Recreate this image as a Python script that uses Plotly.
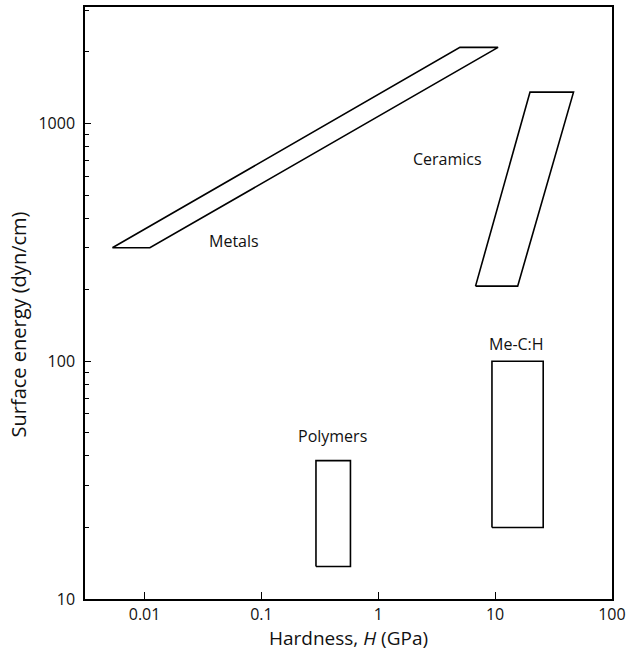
import math
import plotly.graph_objects as go

# Material classes and their hardness / surface-energy envelopes (corner points)
materials = ["Metals", "Ceramics", "Polymers", "Me-C:H"]

# Hardness H (GPa) at each corner: bottom-left, bottom-right, top-right, top-left
metals_h = [0.0053, 0.0111, 10.6, 5.0]
ceramics_h = [6.8, 15.6, 46.9, 19.9]
polymers_h = [0.293, 0.578, 0.578, 0.293]
mech_h = [9.4, 25.8, 25.8, 9.4]

# Surface energy (dyn/cm) at the same corners
metals_gamma = [300, 300, 2090, 2090]
ceramics_gamma = [207, 207, 1355, 1355]
polymers_gamma = [13.7, 13.7, 38.2, 38.2]
mech_gamma = [20, 20, 100, 100]

# Label anchor positions (H, surface energy)
label_h = [0.0583, 3.95, 0.407, 15.3]
label_gamma = [322, 710, 48.6, 118.6]

# Axis tick values and labels
x_tickvals = [0.01, 0.1, 1, 10, 100]
x_ticktext = ["0.01", "0.1", "1", "10", "100"]
y_tickvals = [10, 100, 1000]
y_ticktext = ["10", "100", "1000"]

FONT = "Open Sans, DejaVu Sans, sans-serif"
INK = "#111"

fig = go.Figure()

envelopes = [
    (metals_h, metals_gamma),
    (ceramics_h, ceramics_gamma),
    (polymers_h, polymers_gamma),
    (mech_h, mech_gamma),
]
for name, (h, g) in zip(materials, envelopes):
    fig.add_trace(go.Scatter(
        x=h + h[:1], y=g + g[:1],
        mode="lines", name=name,
        line=dict(color="black", width=1.6),
        showlegend=False, hoverinfo="skip",
    ))

# Annotations on log axes are placed in log10 units
for name, lx, ly in zip(materials, label_h, label_gamma):
    fig.add_annotation(
        x=math.log10(lx), y=math.log10(ly), xref="x", yref="y",
        text=name, showarrow=False,
        font=dict(family=FONT, size=16, color=INK),
        xanchor="center", yanchor="middle",
    )

# Vertical axis title, placed beside the frame
fig.add_annotation(
    x=-0.126, y=0.463, xref="paper", yref="paper",
    text="Surface energy (dyn/cm)", textangle=-90, showarrow=False,
    font=dict(family=FONT, size=20, color=INK),
    xanchor="center", yanchor="middle",
)

axis_common = dict(
    type="log",
    showline=True, linecolor="black", linewidth=1.5, mirror=True,
    showgrid=False, zeroline=False,
    ticks="inside", tickcolor="black", tickwidth=1,
    tickfont=dict(family=FONT, size=16, color=INK),
    ticklabeloverflow="allow",
)

fig.update_xaxes(
    **axis_common,
    range=[-2.51, 2.0005],
    tickvals=x_tickvals, ticktext=x_ticktext, ticklen=7,
    title=dict(text="Hardness, <i>H</i> (GPa)",
               font=dict(family=FONT, size=19, color=INK), standoff=6),
)
fig.update_yaxes(
    **axis_common,
    range=[1.0, 3.49],
    tickvals=y_tickvals, ticktext=y_ticktext, ticklen=6,
    ticklabelstandoff=5,
    minor=dict(ticks="inside", ticklen=4, tickcolor="black", tickwidth=1,
               dtick="D1", showgrid=False),
)

fig.update_layout(
    width=631, height=656,
    margin=dict(l=85, r=13, t=5, b=57),
    paper_bgcolor="white", plot_bgcolor="white",
    showlegend=False,
)

fig.write_html("out.html")
